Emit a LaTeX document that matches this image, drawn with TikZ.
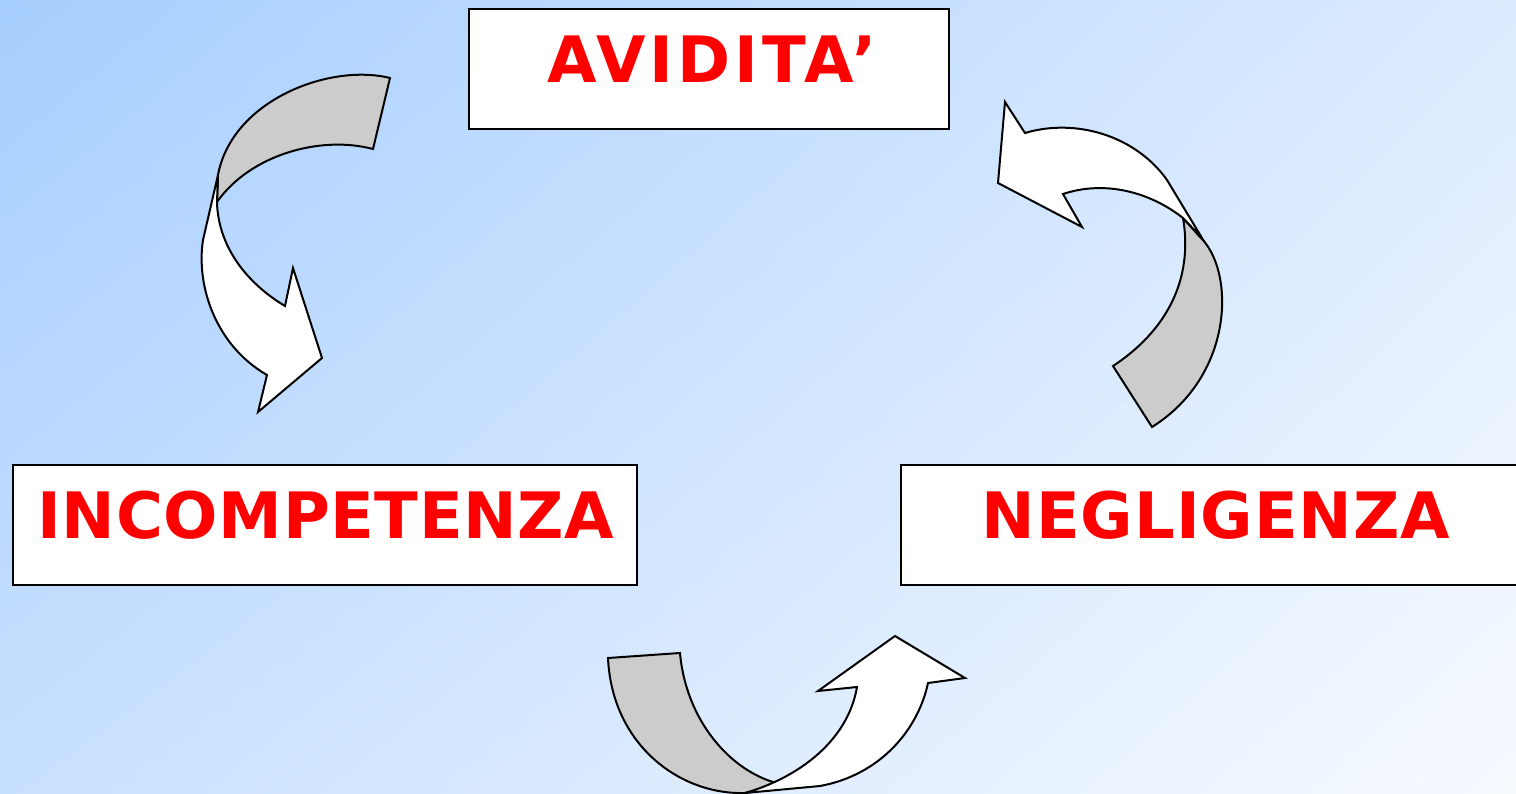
\documentclass[tikz,border=0pt]{standalone}
\usepackage{fontspec}
\setmainfont{DejaVu Sans}
\usetikzlibrary{shadings}
\definecolor{bgTL}{HTML}{A6CEFF}
\definecolor{bgTR}{HTML}{DCEBFF}
\definecolor{bgBL}{HTML}{C8E0FF}
\definecolor{bgBR}{HTML}{F7FAFF}
\definecolor{arrgrey}{HTML}{CCCCCC}
\begin{document}
\begin{tikzpicture}[x=0.5pt,y=-0.5pt,
  box/.style={draw=black,line width=1.2pt,fill=white,rectangle,inner sep=0pt,minimum height=60pt},
  lbl/.style={text=red,font=\fontsize{32}{38}\selectfont\bfseries,anchor=base,inner sep=0pt},
  backarr/.style={draw=black,line width=1pt,fill=arrgrey,line join=miter},
  frontarr/.style={draw=black,line width=1pt,fill=white,line join=miter}]
\useasboundingbox (0,0) rectangle (1516,793);
\clip (0,0) rectangle (1516,793);
\shade[upper left=bgTL,upper right=bgTR,lower left=bgBL,lower right=bgBR] (0,0) rectangle (1516,793);

% boxes
\node[box,minimum width=240pt] (avb) at (709,69) {};
\node[box,minimum width=312pt] (inb) at (325,525) {};
\node[box,minimum width=314pt] (neb) at (1215,525) {};
\node[lbl] (avt) at (712,82) {\addfontfeatures{LetterSpace=6}AVIDITA’};
\node[lbl] (int) at (326,538) {\addfontfeatures{LetterSpace=1}INCOMPETENZA};
\node[lbl] (net) at (1216,538) {\addfontfeatures{LetterSpace=1.4}NEGLIGENZA};

% arrow 1 (top left, downward)
\draw[backarr] (390,78) .. controls (330,63) and (232,100) .. (218,175)
  -- (217,202) .. controls (250,155) and (320,135) .. (373,149) -- cycle;
\draw[frontarr] (218,175) -- (203,240) .. controls (196,285) and (215,345) .. (267,375)
  -- (258,412) -- (322,358) -- (293,268) -- (285,306)
  .. controls (245,282) and (218,245) .. (217,202) -- cycle;

% arrow 2 (right, upward)
\draw[backarr] (1200,237) .. controls (1235,270) and (1235,375) .. (1152,427)
  -- (1113,366) .. controls (1175,325) and (1192,270) .. (1183,218) -- cycle;
\draw[frontarr] (1005,102) -- (1025,133) .. controls (1075,118) and (1135,135) .. (1167,180)
  -- (1202,238) -- (1183,218) .. controls (1150,192) and (1105,180) .. (1063,194)
  -- (1082,227) -- (998,183) -- cycle;

% arrow 3 (bottom, rightward)
\draw[backarr] (608,658) -- (680,653) .. controls (686,720) and (730,772) .. (780,784)
  -- (745,793) .. controls (680,795) and (612,745) .. (608,658) -- cycle;
\draw[frontarr] (745,793) -- (820,786) .. controls (880,775) and (918,730) .. (928,683)
  -- (965,678) -- (895,636) -- (818,691) -- (857,687)
  .. controls (848,740) and (800,777) .. (745,793) -- cycle;
\end{tikzpicture}
\end{document}
